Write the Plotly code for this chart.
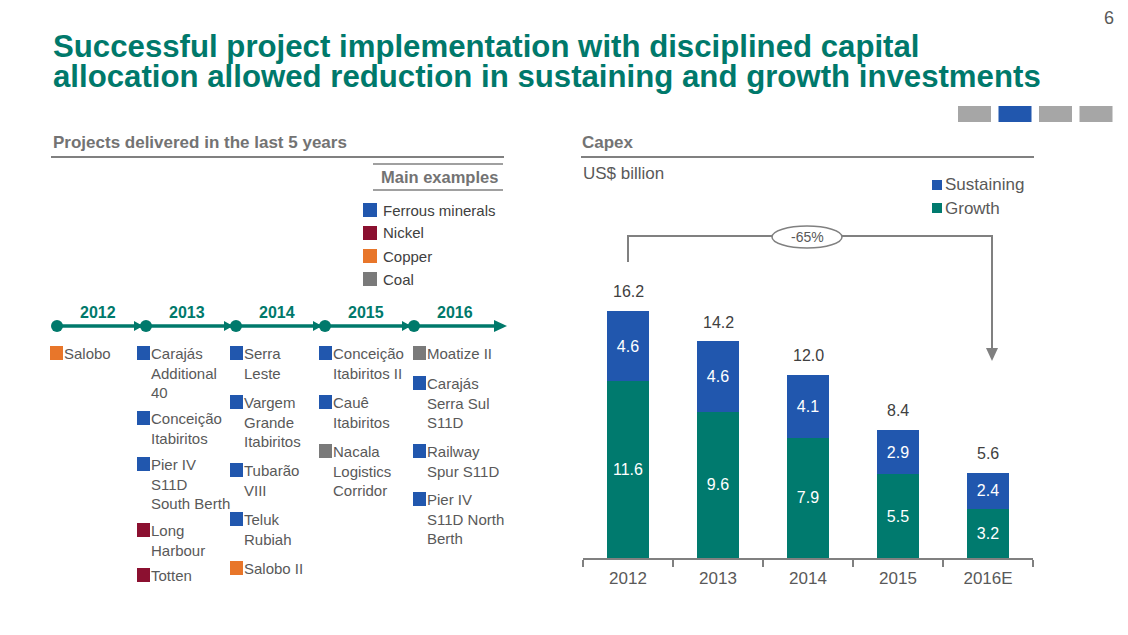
import plotly.graph_objects as go

W, H = 1128, 635

# ---------------- data ----------------
years = ["2012", "2013", "2014", "2015", "2016E"]
growth = [11.6, 9.6, 7.9, 5.5, 3.2]
sustaining = [4.6, 4.6, 4.1, 2.9, 2.4]
totals = [16.2, 14.2, 12.0, 8.4, 5.6]
reduction_label = "-65%"
series_names = ["Sustaining", "Growth"]

timeline_years = ["2012", "2013", "2014", "2015", "2016"]
categories = ["Ferrous minerals", "Nickel", "Copper", "Coal"]
cat_colors = {"Ferrous minerals": "#2157AE", "Nickel": "#8B1030",
              "Copper": "#E8762A", "Coal": "#7A7A7A"}

# projects per delivery year: (label lines, category)
projects_2012 = [("Salobo", "Copper")]
projects_2013 = [("Carajás<br>Additional<br>40", "Ferrous minerals"),
                 ("Conceição<br>Itabiritos", "Ferrous minerals"),
                 ("Pier IV<br>S11D<br>South Berth", "Ferrous minerals"),
                 ("Long<br>Harbour", "Nickel"),
                 ("Totten", "Nickel")]
projects_2014 = [("Serra<br>Leste", "Ferrous minerals"),
                 ("Vargem<br>Grande<br>Itabiritos", "Ferrous minerals"),
                 ("Tubarão<br>VIII", "Ferrous minerals"),
                 ("Teluk<br>Rubiah", "Ferrous minerals"),
                 ("Salobo II", "Copper")]
projects_2015 = [("Conceição<br>Itabiritos II", "Ferrous minerals"),
                 ("Cauê<br>Itabiritos", "Ferrous minerals"),
                 ("Nacala<br>Logistics<br>Corridor", "Coal")]
projects_2016 = [("Moatize II", "Coal"),
                 ("Carajás<br>Serra Sul<br>S11D", "Ferrous minerals"),
                 ("Railway<br>Spur S11D", "Ferrous minerals"),
                 ("Pier IV<br>S11D North<br>Berth", "Ferrous minerals")]

# ---------------- styles ----------------
TEAL = "#00796B"
BLUE = "#2157AE"
GREEN = "#007A6E"
GREY_TXT = "#595959"
GREY_HDR = "#737373"
LINE_GREY = "#808080"
FONT = "Liberation Sans, Arial, sans-serif"


def px(x):
    return x / W


def py(y):
    return 1 - y / H


fig = go.Figure()

fig.add_trace(go.Bar(
    x=years, y=growth, name="Growth", marker=dict(color=GREEN, line=dict(width=0)),
    text=[f"{v:.1f}" for v in growth], textposition="inside", insidetextanchor="middle",
    textfont=dict(color="white", size=16, family=FONT), textangle=0,
    constraintext="none", hoverinfo="skip", showlegend=False))
fig.add_trace(go.Bar(
    x=years, y=sustaining, name="Sustaining", marker=dict(color=BLUE, line=dict(width=0)),
    text=[f"{v:.1f}" for v in sustaining], textposition="inside", insidetextanchor="middle",
    textfont=dict(color="white", size=16, family=FONT), textangle=0,
    constraintext="none", hoverinfo="skip", showlegend=False))

annotations = []
shapes = []

# totals above bars (x as category index)
for i, t in enumerate(totals):
    annotations.append(dict(x=i, y=t, xref="x", yref="y", text=f"{t:.1f}",
                            showarrow=False, yanchor="middle", yshift=19,
                            font=dict(size=16, color="#404040", family=FONT)))

base_y = 558
x_left, x_right = 583, 1033
unit = 15.25
ymax = 18
top_px = base_y - ymax * unit

fig.update_layout(
    width=W, height=H, margin=dict(l=0, r=0, t=0, b=0),
    paper_bgcolor="white", plot_bgcolor="white",
    barmode="stack", bargap=0.53,
    font=dict(family=FONT, color=GREY_TXT),
    xaxis=dict(type="category", categoryorder="array", categoryarray=years,
               range=[-0.5, len(years) - 0.5], autorange=False,
               domain=[px(x_left), px(x_right)], showline=True,
               linecolor=LINE_GREY, linewidth=2, ticks="outside", tickson="boundaries",
               ticklen=7, tickcolor=LINE_GREY, tickwidth=2, showgrid=False, zeroline=False,
               ticklabelstandoff=4,
               tickangle=0, tickfont=dict(size=17, color=GREY_TXT, family=FONT)),
    yaxis=dict(domain=[py(base_y), py(top_px)], range=[0, ymax], autorange=False,
               visible=False, showgrid=False, zeroline=False),
    showlegend=False,
)

# ---------------- legend (series key) ----------------
legend_colors = {"Sustaining": BLUE, "Growth": GREEN}
for i, name in enumerate(series_names):
    yc = 185 + i * 23
    shapes.append(dict(type="rect", xref="paper", yref="paper", x0=px(932), x1=px(942),
                       y0=py(yc + 5), y1=py(yc - 5), fillcolor=legend_colors[name],
                       line=dict(width=0)))
    annotations.append(dict(x=px(943), y=py(yc), xref="paper", yref="paper", xanchor="left",
                            yanchor="middle", text=name, showarrow=False,
                            font=dict(size=17, color=GREY_TXT, family=FONT)))

# ---------------- title and header ----------------
annotations += [
    dict(x=px(51), y=py(46), xref="paper", yref="paper", xanchor="left", yanchor="middle",
         text="<b>Successful project implementation with disciplined capital</b>",
         showarrow=False, font=dict(size=31.2, color=TEAL, family=FONT)),
    dict(x=px(51), y=py(77), xref="paper", yref="paper", xanchor="left", yanchor="middle",
         text="<b>allocation allowed reduction in sustaining and growth investments</b>",
         showarrow=False, font=dict(size=31.2, color=TEAL, family=FONT)),
    dict(x=px(1116), y=py(18), xref="paper", yref="paper", xanchor="right", yanchor="middle",
         text="6", showarrow=False, font=dict(size=18, color="#595959", family=FONT)),
    dict(x=px(51), y=py(142), xref="paper", yref="paper", xanchor="left", yanchor="middle",
         text="<b>Projects delivered in the last 5 years</b>", showarrow=False,
         font=dict(size=17, color=GREY_HDR, family=FONT)),
    dict(x=px(580), y=py(142), xref="paper", yref="paper", xanchor="left", yanchor="middle",
         text="<b>Capex</b>", showarrow=False, font=dict(size=17, color=GREY_HDR, family=FONT)),
    dict(x=px(581), y=py(173), xref="paper", yref="paper", xanchor="left", yanchor="middle",
         text="US$ billion", showarrow=False, font=dict(size=17, color=GREY_TXT, family=FONT)),
    dict(x=px(500), y=py(177), xref="paper", yref="paper", xanchor="right", yanchor="middle",
         text="<b>Main examples</b>", showarrow=False,
         font=dict(size=16.5, color=GREY_HDR, family=FONT)),
]

# header underlines
shapes += [
    dict(type="line", xref="paper", yref="paper", x0=px(51), x1=px(504), y0=py(157), y1=py(157),
         line=dict(color=LINE_GREY, width=2)),
    dict(type="line", xref="paper", yref="paper", x0=px(581), x1=px(1034), y0=py(157), y1=py(157),
         line=dict(color=LINE_GREY, width=2)),
    dict(type="line", xref="paper", yref="paper", x0=px(373), x1=px(503), y0=py(164), y1=py(164),
         line=dict(color=LINE_GREY, width=1.5)),
    dict(type="line", xref="paper", yref="paper", x0=px(373), x1=px(503), y0=py(190), y1=py(190),
         line=dict(color=LINE_GREY, width=1.5)),
]

# navigation squares top-right
for i, c in enumerate(["#A6A6A6", BLUE, "#A6A6A6", "#A6A6A6"]):
    x0 = 958 + i * 40.5
    shapes.append(dict(type="rect", xref="paper", yref="paper", x0=px(x0), x1=px(x0 + 33),
                       y0=py(122), y1=py(106), fillcolor=c, line=dict(width=0)))

# category key
for i, cat in enumerate(categories):
    yc = 210 + i * 23
    shapes.append(dict(type="rect", xref="paper", yref="paper", x0=px(363), x1=px(377),
                       y0=py(yc + 7), y1=py(yc - 7), fillcolor=cat_colors[cat],
                       line=dict(width=0)))
    annotations.append(dict(x=px(381), y=py(yc), xref="paper", yref="paper", xanchor="left",
                            yanchor="middle", text=cat, showarrow=False,
                            font=dict(size=15, color="#404040", family=FONT)))

# ---------------- timeline ----------------
tl_y = 326
dots_x = [57, 146, 236, 325, 414]
shapes.append(dict(type="line", xref="paper", yref="paper", x0=px(57), x1=px(500),
                   y0=py(tl_y), y1=py(tl_y), line=dict(color=TEAL, width=3.5)))
shapes.append(dict(type="path", xref="paper", yref="paper",
                   path=f"M {px(494)},{py(tl_y-6)} L {px(507)},{py(tl_y)} L {px(494)},{py(tl_y+6)} Z",
                   fillcolor=TEAL, line=dict(width=0)))
for i, dx in enumerate(dots_x):
    shapes.append(dict(type="circle", xref="paper", yref="paper", x0=px(dx - 6), x1=px(dx + 6),
                       y0=py(tl_y + 6), y1=py(tl_y - 6), fillcolor=TEAL, line=dict(width=0)))
    if i > 0:
        shapes.append(dict(type="path", xref="paper", yref="paper",
                           path=f"M {px(dx-12)},{py(tl_y-5)} L {px(dx-3)},{py(tl_y)} L {px(dx-12)},{py(tl_y+5)} Z",
                           fillcolor=TEAL, line=dict(width=0)))
for i, yr in enumerate(timeline_years):
    xc = dots_x[i] + 41
    annotations.append(dict(x=px(xc), y=py(313), xref="paper", yref="paper", xanchor="center",
                            yanchor="middle", text=f"<b>{yr}</b>", showarrow=False,
                            font=dict(size=16, color=TEAL, family=FONT)))

# ---------------- project lists ----------------
col_sq_x = [50, 137, 230, 319, 413]
col_item_y = [
    [353],
    [353, 418, 464, 530, 575],
    [353, 402, 470, 519, 568],
    [353, 402, 451],
    [353, 383, 451, 499],
]
all_projects = [projects_2012, projects_2013, projects_2014, projects_2015, projects_2016]
for ci, plist in enumerate(all_projects):
    sx = col_sq_x[ci]
    for pi, (label, cat) in enumerate(plist):
        yc = col_item_y[ci][pi]
        shapes.append(dict(type="rect", xref="paper", yref="paper", x0=px(sx), x1=px(sx + 13),
                           y0=py(yc + 7), y1=py(yc - 7), fillcolor=cat_colors[cat],
                           line=dict(width=0)))
        annotations.append(dict(x=px(sx + 12), y=py(yc - 10), xref="paper", yref="paper",
                                xanchor="left", yanchor="top", align="left", text=label,
                                showarrow=False,
                                font=dict(size=15, color=GREY_TXT, family=FONT)))

# ---------------- reduction bracket ----------------
br_y = 236
shapes.append(dict(type="path", xref="paper", yref="paper",
                   path=(f"M {px(628)},{py(262)} L {px(628)},{py(br_y)} "
                         f"L {px(992)},{py(br_y)} L {px(992)},{py(352)}"),
                   line=dict(color=LINE_GREY, width=2)))
shapes.append(dict(type="path", xref="paper", yref="paper",
                   path=f"M {px(986)},{py(348)} L {px(992)},{py(361)} L {px(998)},{py(348)} Z",
                   fillcolor=LINE_GREY, line=dict(width=0)))
shapes.append(dict(type="circle", xref="paper", yref="paper", x0=px(772), x1=px(842),
                   y0=py(248), y1=py(226), fillcolor="white", line=dict(color=LINE_GREY, width=1.5)))
annotations.append(dict(x=px(807), y=py(237), xref="paper", yref="paper", xanchor="center",
                        yanchor="middle", text=reduction_label, showarrow=False,
                        font=dict(size=14, color=GREY_TXT, family=FONT)))

fig.update_layout(annotations=annotations, shapes=shapes)
fig.write_html("out.html", config={"displayModeBar": False})

# remove the default page margin so the figure sits at the window's top-left corner
with open("out.html", "r", encoding="utf-8") as f:
    html = f.read()
html = html.replace("<head>", "<head><style>html,body{margin:0;padding:0;}</style>", 1)
with open("out.html", "w", encoding="utf-8") as f:
    f.write(html)
